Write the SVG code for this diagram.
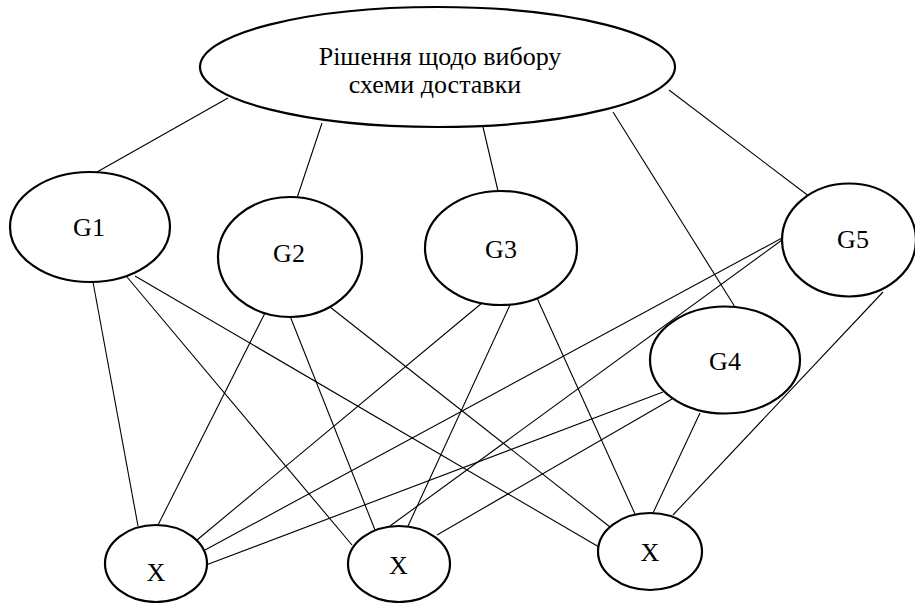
<svg xmlns="http://www.w3.org/2000/svg" width="915" height="603" viewBox="0 0 915 603">
<style>
.node{fill:#fff;stroke:#000;stroke-width:2.2}
text{font-family:'Liberation Serif','DejaVu Serif',serif;font-size:26px;fill:#000;text-anchor:middle}
.edges line{stroke:#000;stroke-width:1.1}
</style>
<rect width="915" height="603" fill="#fff"/>
<g id="connectors" class="edges">
<line x1="228" y1="98" x2="97" y2="172"/>
<line x1="322" y1="123" x2="297" y2="198"/>
<line x1="483" y1="127" x2="498" y2="191"/>
<line x1="613" y1="112" x2="735" y2="307"/>
<line x1="669" y1="90" x2="810" y2="197"/>
<line x1="93" y1="282" x2="138" y2="526"/>
<line x1="127" y1="277" x2="352" y2="545"/>
<line x1="135" y1="276" x2="599" y2="547"/>
<line x1="265" y1="313" x2="158" y2="525"/>
<line x1="290" y1="316" x2="375" y2="530"/>
<line x1="330" y1="307" x2="610" y2="527"/>
<line x1="482" y1="303" x2="197" y2="540"/>
<line x1="510" y1="305" x2="408" y2="526"/>
<line x1="537" y1="298" x2="635" y2="514"/>
<line x1="663" y1="392" x2="206" y2="565"/>
<line x1="672" y1="399" x2="437" y2="535"/>
<line x1="700" y1="413" x2="653" y2="513"/>
<line x1="782" y1="238" x2="205" y2="550"/>
<line x1="782" y1="240" x2="390" y2="526"/>
<line x1="883" y1="292" x2="673" y2="515"/>
</g>
<g id="root">
<ellipse class="node" cx="437.5" cy="67" rx="237.5" ry="60"/>
<text x="440" y="65" font-family="Liberation Serif, serif">Рішення щодо вибору</text>
<text x="435" y="93" font-family="Liberation Serif, serif">схеми доставки</text>
</g>
<g id="G1">
<ellipse class="node" cx="90" cy="227" rx="80" ry="55"/>
<text x="89" y="236" font-family="Liberation Serif, serif">G1</text>
</g>
<g id="G2">
<ellipse class="node" cx="290" cy="257" rx="72" ry="60"/>
<text x="289" y="262" font-family="Liberation Serif, serif">G2</text>
</g>
<g id="G3">
<ellipse class="node" cx="501" cy="248" rx="76" ry="57"/>
<text x="501" y="258" font-family="Liberation Serif, serif">G3</text>
</g>
<g id="G4">
<ellipse class="node" cx="725" cy="360" rx="75" ry="53.5"/>
<text x="725" y="370" font-family="Liberation Serif, serif">G4</text>
</g>
<g id="G5">
<ellipse class="node" cx="849" cy="240" rx="67" ry="56.5"/>
<text x="853" y="248" font-family="Liberation Serif, serif">G5</text>
</g>
<g id="X1">
<ellipse class="node" cx="156" cy="563.5" rx="51" ry="38.5"/>
<text x="156" y="581" font-family="Liberation Serif, serif">X</text>
</g>
<g id="X2">
<ellipse class="node" cx="399" cy="564" rx="51" ry="38"/>
<text x="398.5" y="574" font-family="Liberation Serif, serif">X</text>
</g>
<g id="X3">
<ellipse class="node" cx="650" cy="551.5" rx="52" ry="38.5"/>
<text x="650" y="561" font-family="Liberation Serif, serif">X</text>
</g>
</svg>
